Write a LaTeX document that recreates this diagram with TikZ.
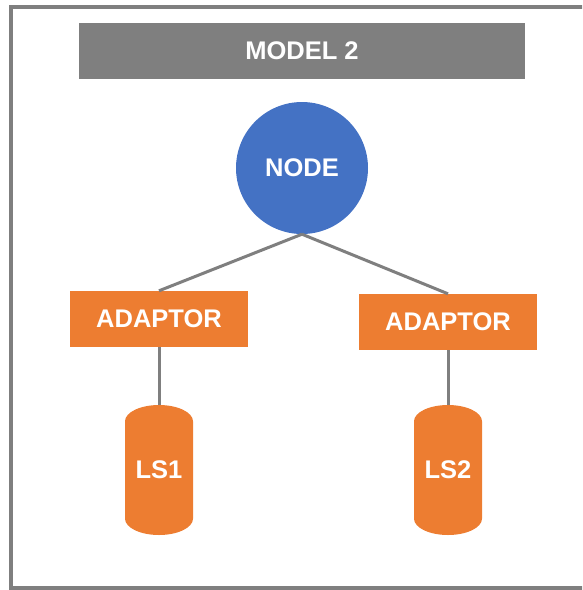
\documentclass[tikz,border=0pt]{standalone}
\usepackage{fontspec}
\setmainfont{Liberation Sans}
\usetikzlibrary{shapes.geometric}
\definecolor{frameGray}{HTML}{7F7F7F}
\definecolor{accentOrange}{HTML}{ED7D31}
\definecolor{accentBlue}{HTML}{4472C4}
\tikzset{
  x=1pt, y=-1pt,
  label text/.style={text=white, font=\fontsize{25.5}{30}\selectfont\bfseries, inner sep=0pt},
  banner/.style={fill=frameGray, draw=none, minimum width=446pt, minimum height=56pt, label text},
  hub/.style={circle, fill=accentBlue, minimum size=132pt, label text},
  adaptorbox/.style={rectangle, fill=accentOrange, minimum width=178pt, minimum height=56pt, label text},
  store/.style={cylinder, shape border rotate=90, aspect=0.7, fill=accentOrange, minimum width=68pt, minimum height=130pt, label text, anchor=shape center},
  link/.style={draw=frameGray, line width=3pt}
}
\begin{document}
\begin{tikzpicture}
  \useasboundingbox (0,0) rectangle (582,590);
  \begin{scope}
    \clip (0,0) rectangle (582,590);
    \draw[frameGray, line width=4pt] (11,7) rectangle (586,588);
  \end{scope}

  \node[banner] (title) at (302,51) {MODEL 2};
  \node[hub] (hub) at (302,168) {NODE};
  \node[adaptorbox] (adA) at (159,319) {ADAPTOR};
  \node[adaptorbox] (adB) at (448,322) {ADAPTOR};

  % storage cylinders, labelled at the middle of the whole body
  \node[store] (ls1) at (159,470) {\phantom{LS1}};
  \node[label text] (ls1txt) at (ls1.shape center) {LS1};
  \node[store] (ls2) at (448,470) {\phantom{LS2}};
  \node[label text] (ls2txt) at (ls2.shape center) {LS2};

  \draw[link] (hub.south) -- (adA.north);
  \draw[link] (hub.south) -- (adB.north);
  \draw[link] (adA.south) -- (ls1.top);
  \draw[link] (adB.south) -- (ls2.top);
\end{tikzpicture}
\end{document}
